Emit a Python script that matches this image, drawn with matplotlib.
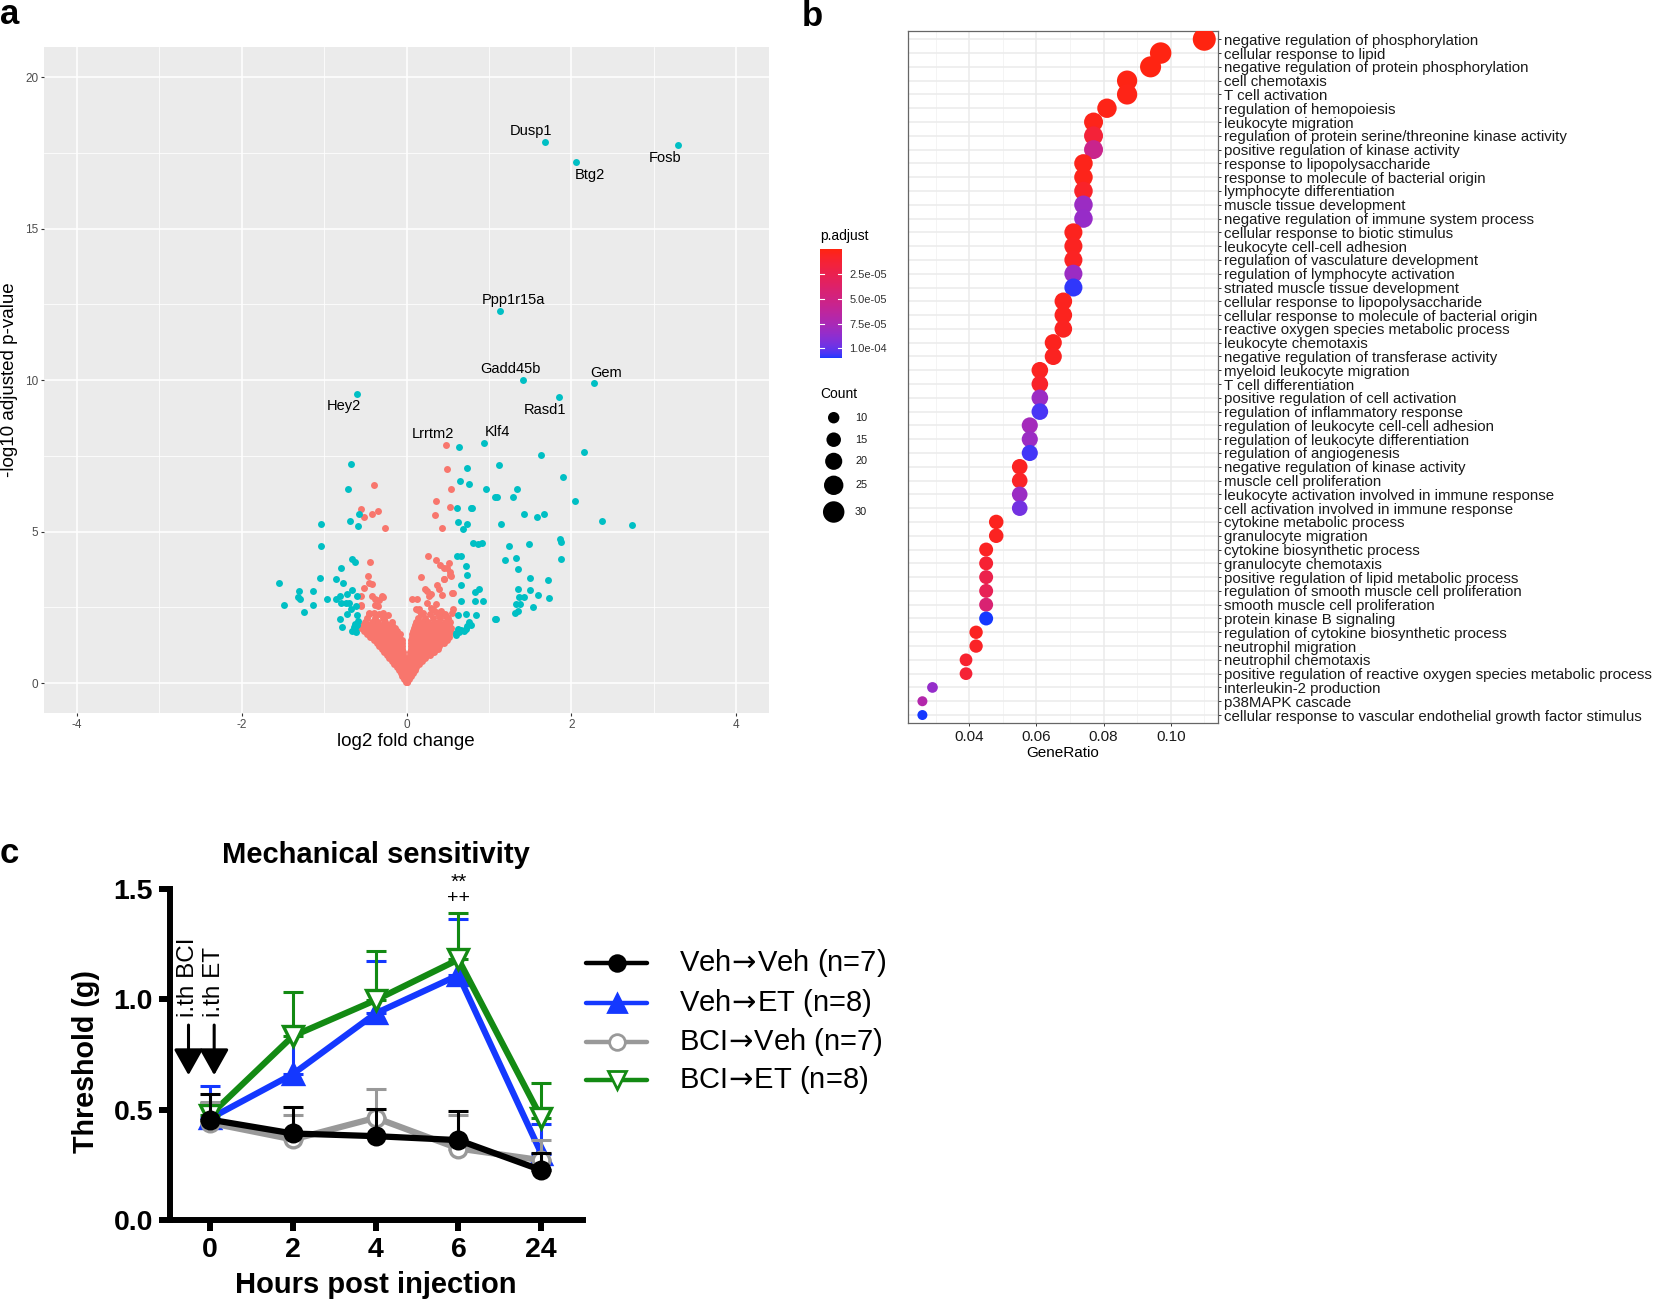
import numpy as np
import matplotlib
matplotlib.use('Agg')
import matplotlib.pyplot as plt
from matplotlib.colors import ListedColormap, Normalize
import matplotlib.transforms as mtransforms
from matplotlib.cm import ScalarMappable

plt.rcParams['font.family'] = ['Liberation Sans', 'DejaVu Sans']
plt.rcParams['axes.unicode_minus'] = False
plt.rcParams['mathtext.fontset'] = 'dejavusans'

# ---------------- Panel a data (volcano) ----------------
label_genes = ['Dusp1', 'Fosb', 'Btg2', 'Ppp1r15a', 'Gadd45b', 'Gem', 'Rasd1', 'Hey2', 'Lrrtm2', 'Klf4']
label_fc = [1.68, 3.30, 2.06, 1.14, 1.42, 2.27, 1.85, -0.60, 0.48, 0.94]
label_p = [17.86, 17.76, 17.19, 12.28, 9.99, 9.90, 9.46, 9.54, 7.86, 7.93]
label_text_fc = [1.51, 3.14, 2.22, 1.30, 1.26, 2.42, 1.68, -0.76, 0.32, 1.10]
label_text_p = [18.21, 17.35, 16.79, 12.65, 10.38, 10.25, 9.03, 9.14, 8.22, 8.28]
label_sig = [True, True, True, True, True, True, True, True, False, True]

sig_fc = [0.64, -0.67, 1.63, 2.15, 0.73, 1.12, -0.71, 0.65, 0.76, 0.97, 1.34, 1.90,
          1.07, 1.10, 1.29, 2.04, 0.61, 0.78, 0.80, -0.58, -0.69, -0.59, -1.04,
          1.43, 1.67, 1.58, 0.63, 0.74, 0.68, 1.15, 2.37, 2.74,
          -1.04, 0.81, 0.87, 0.92, 1.25, 1.49, 1.86, 1.88,
          0.61, 0.66, 1.33, 1.19, 1.88, -0.66, -0.62,
          -0.79, 0.72, 0.74, 1.35, -1.05, -0.85, -0.77, -1.55, 1.50, 1.72,
          -1.30, -1.13, -0.66, 0.66, 0.88, 0.83, 1.35, 1.50,
          1.36, 1.43, 1.60, 1.73, -1.32, -1.29, -0.97, -0.85, -0.81, -0.72, -0.60,
          0.66, 0.83, 0.93, -1.49, -1.14, -1.25, -0.79, -0.74, -0.70, -0.67, -0.61,
          -0.81, -0.78, -0.72, -0.66, -0.63, -0.60, -0.59, -0.60, -0.62, -0.64, -0.61,
          1.38, 1.33, 1.53, 1.35, 1.32, 0.63, 0.72, 0.84, 1.09, 1.07,
          0.60, 0.62, 0.66, 0.72, 0.74, 0.60, 0.64, 0.70, 0.78, 0.76]
sig_p = [7.80, 7.23, 7.52, 7.63, 7.10, 7.19, 6.40, 6.67, 6.58, 6.40, 6.40, 6.79,
         6.15, 6.15, 6.13, 6.00, 5.77, 5.77, 5.77, 5.58, 5.35, 5.19, 5.26,
         5.58, 5.58, 5.47, 5.31, 5.25, 5.10, 5.25, 5.34, 5.21,
         4.54, 4.62, 4.58, 4.62, 4.52, 4.60, 4.75, 4.65,
         4.18, 4.18, 4.14, 4.05, 4.10, 4.10, 4.00,
         3.79, 3.86, 3.58, 3.77, 3.46, 3.42, 3.30, 3.31, 3.47, 3.40,
         3.04, 3.04, 3.08, 3.23, 3.10, 2.99, 3.10, 3.07,
         2.84, 2.84, 2.90, 2.82, 2.84, 2.78, 2.78, 2.78, 2.86, 2.93, 2.86,
         2.70, 2.70, 2.70, 2.58, 2.56, 2.36, 2.64, 2.64, 2.63, 2.45, 2.53,
         2.13, 1.85, 2.28, 1.72, 1.80, 1.90, 2.05, 2.25, 1.95, 1.85, 1.70,
         2.60, 2.60, 2.52, 2.39, 2.32, 2.24, 2.28, 2.24, 2.12, 2.12,
         1.64, 1.78, 1.75, 1.78, 1.89, 1.59, 1.70, 1.72, 1.92, 2.03]

ns_fc = [0.49, -0.39, 0.54, 0.36, 0.53, -0.55, -0.42, -0.35, -0.52, 0.35, -0.26, 0.43,
         -0.44, 0.26, 0.36, 0.41, 0.46, 0.52, 0.53, 0.54, 0.46, 0.18, 0.23, 0.30, 0.43, 0.55, 0.13,
         -0.47, -0.45, -0.42, -0.51, -0.42, -0.38, -0.33, -0.30, -0.55, -0.55, -0.40, -0.34, -0.23,
         -0.29, -0.46, -0.28, -0.27, -0.38, -0.55,
         0.07, 0.11, 0.15, 0.25, 0.27, 0.25, 0.37, 0.39, 0.45, 0.49, 0.53, 0.57, 0.36, 0.32, 0.42,
         0.14, 0.20, 0.30, 0.36, 0.40, 0.48, 0.55, 0.57]
ns_p = [7.05, 6.54, 6.40, 6.01, 5.82, 5.75, 5.58, 5.69, 5.48, 5.54, 5.12, 5.12,
        4.00, 4.18, 4.07, 3.91, 3.80, 3.97, 3.66, 3.53, 3.42, 3.50, 3.09, 2.95, 2.91, 2.97, 2.77,
        3.52, 3.30, 3.27, 3.14, 2.86, 2.78, 2.75, 2.86, 2.88, 2.53, 2.31, 2.53, 2.26,
        2.85, 2.31, 2.31, 2.11, 2.58, 2.56,
        2.76, 2.45, 2.45, 3.04, 2.87, 2.65, 3.25, 3.10, 3.42, 3.80, 3.58, 2.98, 2.60, 2.43, 2.37,
        2.40, 2.30, 2.48, 2.35, 2.22, 2.20, 2.30, 2.45]

# dense non-significant cloud, one row of x values per -log10 p level
cloud_p = [0.03, 0.12, 0.22, 0.32, 0.42, 0.52, 0.62, 0.72, 0.82, 0.92, 1.02, 1.12,
           1.22, 1.32, 1.42, 1.52, 1.62, 1.72, 1.82, 1.92, 2.02, 2.14, 2.28]
cloud_fc = [
    [-0.01, 0.0, 0.01],
    [-0.03, -0.01, 0.01, 0.03],
    [-0.05, -0.02, 0.02, 0.05],
    [-0.07, -0.04, -0.01, 0.01, 0.04, 0.08],
    [-0.09, -0.05, -0.02, 0.02, 0.06, 0.10],
    [-0.12, -0.07, -0.03, 0.03, 0.07, 0.12],
    [-0.15, -0.10, -0.05, -0.02, 0.02, 0.06, 0.11, 0.15],
    [-0.18, -0.13, -0.08, -0.03, 0.03, 0.08, 0.13, 0.19],
    [-0.21, -0.16, -0.11, -0.06, -0.03, 0.03, 0.07, 0.12, 0.17, 0.23],
    [-0.24, -0.19, -0.14, -0.09, -0.04, 0.04, 0.09, 0.14, 0.19, 0.25, 0.28],
    [-0.27, -0.22, -0.17, -0.12, -0.07, -0.04, 0.04, 0.09, 0.14, 0.19, 0.24, 0.29, 0.33],
    [-0.30, -0.25, -0.20, -0.15, -0.10, -0.05, 0.05, 0.10, 0.15, 0.20, 0.25, 0.30, 0.35, 0.38],
    [-0.33, -0.28, -0.23, -0.18, -0.13, -0.08, -0.05, 0.05, 0.10, 0.15, 0.20, 0.25, 0.30, 0.35, 0.40],
    [-0.36, -0.31, -0.26, -0.21, -0.16, -0.11, -0.06, 0.06, 0.11, 0.16, 0.21, 0.26, 0.31, 0.36, 0.42, 0.45],
    [-0.40, -0.35, -0.30, -0.25, -0.20, -0.15, -0.10, -0.06, 0.06, 0.11, 0.16, 0.21, 0.26, 0.31, 0.36, 0.41, 0.46, 0.49],
    [-0.44, -0.39, -0.34, -0.29, -0.24, -0.19, -0.14, -0.09, 0.07, 0.12, 0.17, 0.22, 0.27, 0.32, 0.37, 0.42, 0.47, 0.51],
    [-0.48, -0.43, -0.38, -0.33, -0.28, -0.23, -0.18, -0.13, -0.08, 0.07, 0.12, 0.17, 0.22, 0.27, 0.32, 0.37, 0.42, 0.47, 0.52],
    [-0.52, -0.47, -0.42, -0.37, -0.32, -0.27, -0.22, -0.17, -0.12, 0.08, 0.13, 0.18, 0.23, 0.28, 0.33, 0.38, 0.43, 0.48, 0.53],
    [-0.55, -0.50, -0.45, -0.40, -0.35, -0.30, -0.25, -0.20, -0.14, 0.09, 0.14, 0.19, 0.24, 0.29, 0.34, 0.39, 0.44, 0.49, 0.54],
    [-0.53, -0.47, -0.41, -0.35, -0.29, -0.23, -0.17, 0.10, 0.16, 0.22, 0.28, 0.34, 0.40, 0.46, 0.52],
    [-0.50, -0.42, -0.34, -0.26, -0.18, 0.12, 0.19, 0.26, 0.33, 0.40, 0.47, 0.53],
    [-0.48, -0.38, -0.28, 0.14, 0.23, 0.32, 0.41, 0.50],
    [-0.45, -0.33, 0.17, 0.29, 0.39, 0.47],
]

# ---------------- Panel b data (GO dot plot) ----------------
go_terms = [
    'negative regulation of phosphorylation', 'cellular response to lipid',
    'negative regulation of protein phosphorylation', 'cell chemotaxis', 'T cell activation',
    'regulation of hemopoiesis', 'leukocyte migration',
    'regulation of protein serine/threonine kinase activity', 'positive regulation of kinase activity',
    'response to lipopolysaccharide', 'response to molecule of bacterial origin',
    'lymphocyte differentiation', 'muscle tissue development',
    'negative regulation of immune system process', 'cellular response to biotic stimulus',
    'leukocyte cell-cell adhesion', 'regulation of vasculature development',
    'regulation of lymphocyte activation', 'striated muscle tissue development',
    'cellular response to lipopolysaccharide', 'cellular response to molecule of bacterial origin',
    'reactive oxygen species metabolic process', 'leukocyte chemotaxis',
    'negative regulation of transferase activity', 'myeloid leukocyte migration',
    'T cell differentiation', 'positive regulation of cell activation',
    'regulation of inflammatory response', 'regulation of leukocyte cell-cell adhesion',
    'regulation of leukocyte differentiation', 'regulation of angiogenesis',
    'negative regulation of kinase activity', 'muscle cell proliferation',
    'leukocyte activation involved in immune response', 'cell activation involved in immune response',
    'cytokine metabolic process', 'granulocyte migration', 'cytokine biosynthetic process',
    'granulocyte chemotaxis', 'positive regulation of lipid metabolic process',
    'regulation of smooth muscle cell proliferation', 'smooth muscle cell proliferation',
    'protein kinase B signaling', 'regulation of cytokine biosynthetic process',
    'neutrophil migration', 'neutrophil chemotaxis',
    'positive regulation of reactive oxygen species metabolic process',
    'interleukin-2 production', 'p38MAPK cascade',
    'cellular response to vascular endothelial growth factor stimulus']
gene_ratio = [0.110, 0.097, 0.094, 0.087, 0.087, 0.081, 0.077, 0.077, 0.077, 0.074,
              0.074, 0.074, 0.074, 0.074, 0.071, 0.071, 0.071, 0.071, 0.071, 0.068,
              0.068, 0.068, 0.065, 0.065, 0.061, 0.061, 0.061, 0.061, 0.058, 0.058,
              0.058, 0.055, 0.055, 0.055, 0.055, 0.048, 0.048, 0.045, 0.045, 0.045,
              0.045, 0.045, 0.045, 0.042, 0.042, 0.039, 0.039, 0.029, 0.026, 0.026]
gene_count = [34, 30, 29, 27, 27, 25, 24, 24, 24, 23, 23, 23, 23, 23, 22, 22, 22, 22, 22, 21,
              21, 21, 20, 20, 19, 19, 19, 19, 18, 18, 18, 17, 17, 17, 17, 15, 15, 14, 14, 14,
              14, 14, 14, 13, 13, 12, 12, 9, 8, 8]
p_adjust = [2e-8, 5e-7, 8e-7, 1e-6, 2e-6, 2e-6, 3e-6, 1.4e-5, 5.5e-5, 3e-6,
            3e-6, 8e-6, 8.2e-5, 8.4e-5, 4e-6, 5e-6, 6e-6, 8.2e-5, 1.08e-4, 4e-6,
            4e-6, 5e-6, 4e-6, 5e-6, 5e-6, 9e-6, 8.2e-5, 1.05e-4, 7.8e-5, 8.2e-5,
            1.06e-4, 6e-6, 7e-6, 8.2e-5, 9.6e-5, 4e-6, 5e-6, 6e-6, 1.2e-5, 2.4e-5,
            2.8e-5, 4.2e-5, 1.1e-4, 5e-6, 7e-6, 1e-5, 1.3e-5, 8.5e-5, 7e-5, 1.1e-4]
cbar_ticks = [2.5e-5, 5.0e-5, 7.5e-5, 1.0e-4]
cbar_ticklabels = ['2.5e-05', '5.0e-05', '7.5e-05', '1.0e-04']
count_legend = [10, 15, 20, 25, 30]

# ---------------- Panel c data ----------------
hours_labels = ['0', '2', '4', '6', '24']
series_names = [r'Veh$\!\rightarrow\!$Veh (n=7)', r'Veh$\!\rightarrow\!$ET (n=8)',
                r'BCI$\!\rightarrow\!$Veh (n=7)', r'BCI$\!\rightarrow\!$ET (n=8)']
veh_veh_mean = [0.456, 0.393, 0.381, 0.363, 0.227]
veh_veh_sem = [0.118, 0.121, 0.121, 0.132, 0.078]
veh_et_mean = [0.461, 0.662, 0.937, 1.110, 0.302]
veh_et_sem = [0.148, 0.214, 0.238, 0.253, 0.133]
bci_veh_mean = [0.441, 0.366, 0.464, 0.325, 0.272]
bci_veh_sem = [0.094, 0.113, 0.131, 0.152, 0.091]
bci_et_mean = [0.476, 0.834, 0.997, 1.181, 0.464]
bci_et_sem = [0.053, 0.198, 0.224, 0.212, 0.158]

# ================= figure =================
W, H = 1661, 1301
fig = plt.figure(figsize=(W / 100, H / 100), dpi=100)


def rect(x0, y0, x1, y1):
    return [x0 / W, 1 - y1 / H, (x1 - x0) / W, (y1 - y0) / H]


# overlay axes in pixel coordinates for free text / legend keys
ov = fig.add_axes([0, 0, 1, 1], zorder=5)
ov.set_xlim(0, W)
ov.set_ylim(H, 0)
ov.axis('off')
ov.patch.set_alpha(0)

# ---------------- Panel a ----------------
RED = '#F8766D'
CYAN = '#00BFC4'
axa = fig.add_axes(rect(44, 47, 769, 713.3))
axa.set_facecolor('#EBEBEB')
axa.set_xlim(-4.4, 4.4)
axa.set_ylim(-1, 21)
axa.set_xticks([-4, -2, 0, 2, 4])
axa.set_yticks([0, 5, 10, 15, 20])
axa.set_xticks([-3, -1, 1, 3], minor=True)
axa.set_yticks([2.5, 7.5, 12.5, 17.5], minor=True)
axa.grid(which='major', color='white', lw=1.1)
axa.grid(which='minor', color='white', lw=0.55)
axa.set_axisbelow(True)
for s in axa.spines.values():
    s.set_visible(False)
axa.tick_params(which='major', length=2.2, width=0.8, color='#333333', labelsize=8.5,
                labelcolor='#4D4D4D', pad=2)
axa.tick_params(which='minor', length=0)

cx, cy = [], []
for pv, xs in zip(cloud_p, cloud_fc):
    cx.extend(xs)
    cy.extend([pv] * len(xs))
axa.scatter(cx, cy, s=25, color=RED, linewidths=0, zorder=2)
axa.scatter(ns_fc, ns_p, s=25, color=RED, linewidths=0, zorder=2)
axa.scatter(sig_fc, sig_p, s=25, color=CYAN, linewidths=0, zorder=2)
for g, fx, fp, tx, tp, sg in zip(label_genes, label_fc, label_p, label_text_fc, label_text_p, label_sig):
    axa.scatter([fx], [fp], s=25, color=CYAN if sg else RED, linewidths=0, zorder=3)
    axa.text(tx, tp, g, ha='center', va='center', fontsize=10.5, color='black', zorder=4)

ov.text(406, 742, 'log2 fold change', ha='center', va='center', fontsize=13.5)
ov.text(10, 380, '-log10 adjusted p-value', ha='center', va='center', rotation=90, fontsize=13.5)
ov.text(0, 24, 'a', fontsize=25, fontweight='bold', va='baseline', ha='left')

# ---------------- Panel b ----------------
wp = np.array([0.95047, 1.0, 1.08883])
M = np.array([[0.4124564, 0.3575761, 0.1804375],
              [0.2126729, 0.7151522, 0.0721750],
              [0.0193339, 0.1191920, 0.9503041]])
Minv = np.linalg.inv(M)


def srgb_to_lab(rgb):
    rgb = np.asarray(rgb, float)
    lin = np.where(rgb <= 0.04045, rgb / 12.92, ((rgb + 0.055) / 1.055) ** 2.4)
    t = (M @ lin) / wp
    f = np.where(t > (6 / 29) ** 3, np.cbrt(t), t / (3 * (6 / 29) ** 2) + 4 / 29)
    return np.array([116 * f[1] - 16, 500 * (f[0] - f[1]), 200 * (f[1] - f[2])])


def lab_to_srgb(lab):
    L, a, b = lab
    fy = (L + 16) / 116
    f = np.array([fy + a / 500, fy, fy - b / 200])
    t = np.where(f > 6 / 29, f ** 3, 3 * (6 / 29) ** 2 * (f - 4 / 29))
    lin = np.clip(Minv @ (t * wp), 0, 1)
    rgb = np.where(lin <= 0.0031308, 12.92 * lin, 1.055 * lin ** (1 / 2.4) - 0.055)
    return np.clip(rgb, 0, 1)


lab_lo = srgb_to_lab(np.array([255, 36, 16]) / 255)
lab_hi = srgb_to_lab(np.array([21, 56, 255]) / 255)
cols = [lab_to_srgb(lab_lo + (lab_hi - lab_lo) * t) for t in np.linspace(0, 1, 256)]
cmap = ListedColormap(cols)
norm = Normalize(vmin=min(p_adjust), vmax=max(p_adjust))


def dot_size(c):
    d_px = -2.245 + 4.329 * np.sqrt(np.asarray(c, float))
    return (d_px * 0.72) ** 2


axb = fig.add_axes(rect(908.3, 31, 1217.7, 723.3))
n = len(go_terms)
ypos = np.arange(n)
axb.set_xlim(0.0218, 0.1140)
axb.set_ylim(n - 1 + 0.6, -0.6)
axb.set_xticks([0.04, 0.06, 0.08, 0.10])
axb.set_xticklabels(['0.04', '0.06', '0.08', '0.10'])
axb.set_xticks([0.03, 0.05, 0.07, 0.09, 0.11], minor=True)
axb.set_yticks(ypos)
axb.set_yticklabels(go_terms)
axb.yaxis.tick_right()
axb.grid(which='major', color='#EBEBEB', lw=1.1)
axb.grid(which='minor', axis='x', color='#F2F2F2', lw=0.6)
axb.set_axisbelow(True)
for s in axb.spines.values():
    s.set_color('#666666')
    s.set_linewidth(0.9)
axb.tick_params(which='major', length=2, width=0.7, color='#333333', labelsize=11,
                labelcolor='#1A1A1A', pad=3)
axb.tick_params(axis='y', labelsize=10.8, pad=2.5)
axb.tick_params(which='minor', length=0)
axb.scatter(gene_ratio, ypos, s=dot_size(gene_count), c=p_adjust, cmap=cmap, norm=norm,
            linewidths=0, zorder=3)
ov.text(1062.7, 753.3, 'GeneRatio', ha='center', va='center', fontsize=11)
ov.text(802, 26.5, 'b', fontsize=25, fontweight='bold', va='baseline', ha='left')

# colorbar legend
cax = fig.add_axes(rect(820, 249.3, 842.3, 358.3))
cb = fig.colorbar(ScalarMappable(norm=norm, cmap=cmap), cax=cax)
cb.outline.set_visible(False)
cb.set_ticks(cbar_ticks)
cb.set_ticklabels(cbar_ticklabels)
cax.invert_yaxis()
cax.tick_params(length=0, pad=5, labelsize=8, labelcolor='#333333')
btr = mtransforms.blended_transform_factory(cax.transAxes, cax.transData)
for v in cbar_ticks:
    cax.plot([0, 0.2], [v, v], color='white', lw=0.8, transform=btr)
    cax.plot([0.8, 1.0], [v, v], color='white', lw=0.8, transform=btr)
ov.text(820.5, 240, 'p.adjust', fontsize=10, ha='left', va='baseline')

# size legend
ov.text(820.5, 398.3, 'Count', fontsize=10, ha='left', va='baseline')
count_y = [417.7, 439.7, 461.3, 485.3, 512]
ov.scatter([833.7] * len(count_legend), count_y, s=dot_size(count_legend), color='black',
           linewidths=0)
for c, yy in zip(count_legend, count_y):
    ov.text(855, yy, str(c), fontsize=7.8, ha='left', va='center', color='#1A1A1A')

# ---------------- Panel c ----------------
axc = fig.add_axes(rect(169.7, 889, 582.7, 1220.3))
xs = np.arange(len(hours_labels))
axc.set_xlim(-0.487, 4.5)
axc.set_ylim(0, 1.5)
axc.set_yticks([0, 0.5, 1.0, 1.5])
axc.set_yticklabels(['0.0', '0.5', '1.0', '1.5'])
axc.set_xticks(xs)
axc.set_xticklabels(hours_labels)
for side in ['top', 'right']:
    axc.spines[side].set_visible(False)
for side in ['left', 'bottom']:
    axc.spines[side].set_linewidth(4.3)
    axc.spines[side].set_capstyle('projecting')
axc.tick_params(length=8, width=4.3, labelsize=20.5, pad=4)
for lab in axc.get_xticklabels() + axc.get_yticklabels():
    lab.set_fontweight('bold')
axc.patch.set_alpha(0)

series = [
    (veh_et_mean, veh_et_sem, '#1438FF', '^', '#1438FF', 15, 3),
    (bci_et_mean, bci_et_sem, '#138A13', 'v', 'white', 15, 4),
    (bci_veh_mean, bci_veh_sem, '#999999', 'o', 'white', 12, 5),
    (veh_veh_mean, veh_veh_sem, 'black', 'o', 'black', 12, 6),
]
for mean, sem, col, mk, mfc, ms, z in series:
    axc.errorbar(xs, mean, yerr=[np.zeros(len(sem)), sem], fmt='none', ecolor=col,
                 elinewidth=2.2, capsize=7.5, capthick=2.2, zorder=z, clip_on=False)
    axc.plot(xs, mean, color=col, lw=4.5, marker=mk, ms=ms, mfc=mfc, mec=col, mew=2.4,
             zorder=z + 0.5, clip_on=False)

# injection arrows & labels
for xa, txt in [(-0.26, 'i.th BCI'), (0.05, 'i.th ET')]:
    axc.annotate('', xy=(xa, 0.657), xytext=(xa, 0.884), xycoords='data',
                 arrowprops=dict(arrowstyle='-|>,head_length=1.6,head_width=0.9',
                                 color='black', lw=2.2, mutation_scale=10, shrinkA=0, shrinkB=0),
                 annotation_clip=False)
    axc.text(xa, 0.92, txt, rotation=90, ha='center', va='bottom', fontsize=17.5,
             clip_on=False)
axc.text(3, 1.531, '**', ha='center', va='center', fontsize=15, clip_on=False)
axc.text(3, 1.455, '++', ha='center', va='center', fontsize=14, clip_on=False)

ov.text(376, 863, 'Mechanical sensitivity', ha='center', va='baseline', fontsize=21,
        fontweight='bold')
ov.text(376, 1293, 'Hours post injection', ha='center', va='baseline', fontsize=21,
        fontweight='bold')
ov.text(86, 1061.5, 'Threshold (g)', ha='center', va='center', rotation=90, fontsize=20.6,
        fontweight='bold')
ov.text(0, 863, 'c', fontsize=25, fontweight='bold', va='baseline', ha='left')

# legend for panel c
leg_y = [963.3, 1002.7, 1041.7, 1080]
leg_style = [('black', 'o', 'black', 11.3), ('#1438FF', '^', '#1438FF', 13),
             ('#999999', 'o', 'white', 11.3), ('#138A13', 'v', 'white', 13)]
for (col, mk, mfc, ms), yy, name in zip(leg_style, leg_y, series_names):
    ov.plot([586, 647], [yy, yy], color=col, lw=3.2, solid_capstyle='round')
    ov.plot([616.5], [yy], marker=mk, ms=ms, mfc=mfc, mec=col, mew=2.0, color=col)
    ov.text(679, yy, name, ha='left', va='center', fontsize=21)

fig.savefig('out.png', dpi=100)
